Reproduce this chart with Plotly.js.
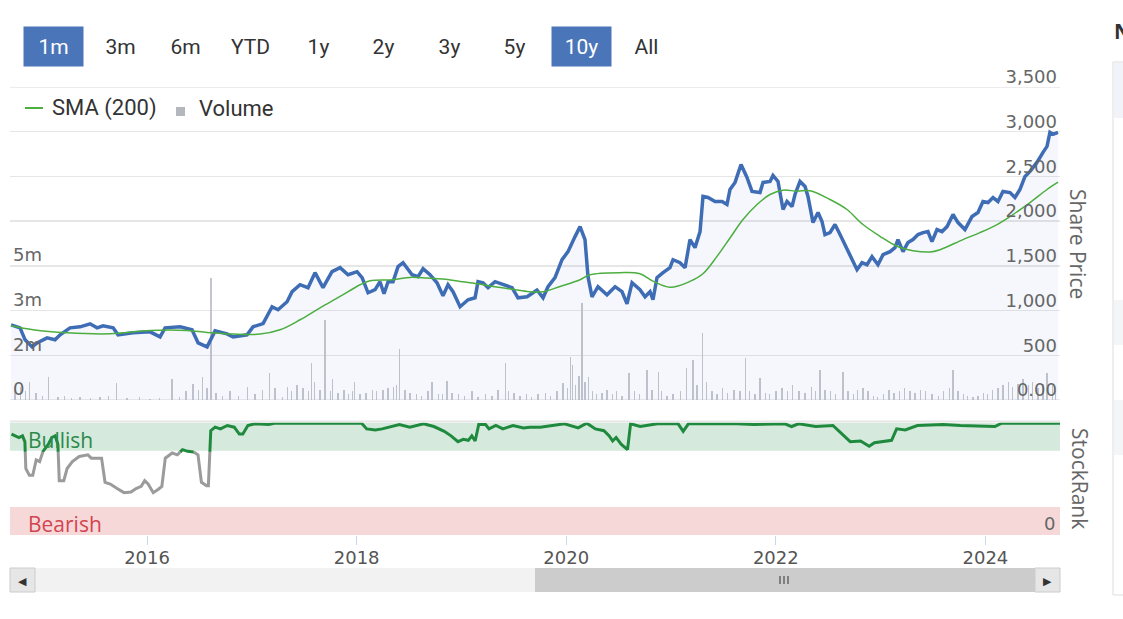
<!DOCTYPE html>
<html>
<head>
<meta charset="utf-8">
<script src="https://cdn.plot.ly/plotly-3.0.1.min.js"></script>
<style>
  html, body { margin: 0; padding: 0; background: #fff; }
  #chart { width: 1123px; height: 619px; }
</style>
</head>
<body>
<div id="chart"></div>
<script>
// share price (decimal years)
var priceYears = [2014.702,2014.788,2014.836,2014.903,2014.950,2015.046,2015.122,2015.170,2015.265,2015.361,2015.456,2015.523,2015.580,2015.676,2015.723,2015.866,2016.029,2016.124,2016.172,2016.315,2016.429,2016.487,2016.573,2016.649,2016.763,2016.821,2016.954,2017.011,2017.107,2017.193,2017.250,2017.336,2017.384,2017.460,2017.536,2017.603,2017.679,2017.765,2017.842,2017.918,2018.004,2018.052,2018.109,2018.176,2018.223,2018.261,2018.300,2018.347,2018.395,2018.443,2018.529,2018.586,2018.634,2018.700,2018.767,2018.824,2018.872,2018.920,2018.987,2019.063,2019.130,2019.158,2019.206,2019.254,2019.321,2019.397,2019.483,2019.540,2019.626,2019.721,2019.779,2019.826,2019.893,2019.960,2020.017,2020.084,2020.132,2020.179,2020.208,2020.246,2020.303,2020.389,2020.466,2020.532,2020.580,2020.628,2020.704,2020.752,2020.800,2020.828,2020.866,2020.924,2020.990,2021.019,2021.086,2021.134,2021.181,2021.229,2021.277,2021.305,2021.353,2021.420,2021.487,2021.534,2021.563,2021.611,2021.668,2021.725,2021.773,2021.849,2021.878,2021.945,2021.973,2022.021,2022.069,2022.107,2022.155,2022.183,2022.231,2022.279,2022.307,2022.355,2022.403,2022.441,2022.469,2022.517,2022.565,2022.613,2022.679,2022.727,2022.775,2022.823,2022.870,2022.918,2022.975,2023.023,2023.090,2023.137,2023.166,2023.214,2023.261,2023.309,2023.357,2023.405,2023.452,2023.490,2023.538,2023.586,2023.634,2023.691,2023.739,2023.805,2023.872,2023.929,2023.977,2024.025,2024.073,2024.120,2024.168,2024.235,2024.282,2024.330,2024.378,2024.426,2024.492,2024.550,2024.588,2024.616,2024.645,2024.693];
var price = [841,807,673,594,639,695,673,729,807,818,852,807,830,807,729,751,762,706,807,818,785,639,594,773,740,706,729,818,855,1043,1009,1099,1211,1289,1256,1424,1256,1435,1480,1401,1435,1368,1199,1233,1323,1188,1323,1323,1491,1536,1401,1379,1468,1401,1311,1166,1289,1211,1043,1121,1143,1323,1311,1256,1323,1289,1256,1143,1154,1230,1143,1267,1368,1569,1659,1827,1939,1794,1379,1154,1267,1177,1267,1211,1076,1311,1233,1154,1211,1121,1368,1424,1480,1569,1536,1480,1794,1704,1883,2276,2264,2220,2220,2186,2354,2433,2634,2489,2332,2320,2433,2444,2511,2444,2130,2220,2164,2298,2444,2388,2276,1984,2096,1995,1850,1872,1962,1850,1681,1569,1457,1536,1513,1603,1513,1625,1659,1704,1794,1659,1760,1794,1850,1872,1883,1771,1906,1883,1939,2074,1984,1906,2051,2096,2220,2208,2264,2220,2332,2320,2264,2354,2500,2556,2657,2769,2836,2993,2971,2993];

// 200-day simple moving average
var smaYears = [2014.702,2014.912,2015.236,2015.647,2016.029,2016.382,2016.573,2016.821,2017.078,2017.269,2017.460,2017.651,2017.842,2018.033,2018.128,2018.347,2018.509,2018.672,2018.824,2018.987,2019.149,2019.301,2019.464,2019.626,2019.779,2019.941,2020.132,2020.227,2020.513,2020.704,2020.828,2020.990,2021.181,2021.305,2021.439,2021.563,2021.687,2021.821,2021.945,2022.069,2022.202,2022.326,2022.517,2022.679,2022.832,2022.994,2023.156,2023.309,2023.471,2023.567,2023.786,2023.948,2024.111,2024.263,2024.426,2024.588,2024.693];
var sma = [830,785,751,740,777,777,755,737,737,785,897,1031,1158,1289,1334,1345,1371,1364,1353,1326,1300,1270,1241,1214,1210,1270,1345,1401,1424,1412,1330,1260,1326,1412,1606,1812,2018,2186,2298,2346,2335,2340,2242,2130,1962,1831,1719,1670,1655,1681,1794,1872,1962,2074,2208,2354,2436];

// volume (millions of shares)
var volYears = [2014.74,2014.79,2014.84,2014.88,2014.94,2015.00,2015.06,2015.15,2015.21,2015.28,2015.36,2015.46,2015.55,2015.63,2015.71,2015.81,2015.93,2016.03,2016.12,2016.24,2016.31,2016.37,2016.44,2016.49,2016.53,2016.57,2016.61,2016.66,2016.72,2016.79,2016.87,2016.96,2017.03,2017.10,2017.17,2017.22,2017.29,2017.34,2017.38,2017.43,2017.49,2017.54,2017.57,2017.60,2017.65,2017.70,2017.75,2017.77,2017.82,2017.88,2017.92,2017.96,2017.98,2018.03,2018.09,2018.15,2018.19,2018.25,2018.30,2018.35,2018.38,2018.41,2018.46,2018.51,2018.57,2018.62,2018.68,2018.72,2018.78,2018.82,2018.86,2018.91,2018.97,2019.03,2019.10,2019.16,2019.23,2019.29,2019.35,2019.42,2019.45,2019.50,2019.56,2019.62,2019.67,2019.73,2019.80,2019.85,2019.91,2019.97,2020.01,2020.04,2020.06,2020.09,2020.12,2020.15,2020.18,2020.21,2020.25,2020.29,2020.34,2020.39,2020.44,2020.48,2020.53,2020.60,2020.65,2020.70,2020.77,2020.82,2020.88,2020.91,2020.96,2021.02,2021.09,2021.15,2021.21,2021.25,2021.30,2021.34,2021.39,2021.44,2021.49,2021.54,2021.60,2021.66,2021.71,2021.75,2021.80,2021.85,2021.90,2021.94,2022.00,2022.06,2022.11,2022.16,2022.22,2022.28,2022.34,2022.38,2022.42,2022.47,2022.52,2022.57,2022.64,2022.69,2022.74,2022.78,2022.83,2022.88,2022.93,2022.97,2023.03,2023.08,2023.13,2023.18,2023.23,2023.28,2023.33,2023.38,2023.43,2023.49,2023.55,2023.60,2023.66,2023.69,2023.74,2023.79,2023.83,2023.88,2023.93,2023.98,2024.02,2024.07,2024.12,2024.17,2024.22,2024.26,2024.31,2024.36,2024.41,2024.45,2024.50,2024.55,2024.59,2024.64,2024.67];
var volume = [0.35,0.45,0.3,0.6,0.25,0.15,0.77,0.1,0.12,0.08,0.1,0.08,0.1,0.12,0.57,0.08,0.1,0.05,0.08,0.7,0.1,0.3,0.55,0.35,0.77,0.4,4.1,0.25,0.15,0.3,0.12,0.44,0.2,0.35,0.9,0.4,0.1,0.45,0.3,0.5,0.4,0.3,1.24,0.6,0.35,2.69,0.3,0.7,0.25,0.35,0.2,0.3,0.6,0.2,0.25,0.35,0.3,0.35,0.4,0.45,0.5,1.7,0.35,0.25,0.2,0.15,0.3,0.6,0.2,0.2,0.65,0.25,0.2,0.15,0.3,0.1,0.2,0.15,0.35,1.24,0.3,0.25,0.15,0.2,0.1,0.2,0.25,0.15,0.3,0.57,0.4,1.45,1.18,0.5,0.8,3.26,0.6,0.77,0.3,0.2,0.25,0.35,0.2,0.3,0.15,0.9,0.3,0.2,1.0,0.35,0.94,0.3,0.15,0.2,0.3,1.08,1.35,0.5,2.25,0.6,0.3,0.2,0.4,0.25,0.35,0.3,1.41,0.3,0.2,0.74,0.25,0.2,0.3,0.4,0.3,0.5,0.3,0.25,0.45,0.3,1.0,0.35,0.3,0.2,0.94,0.3,0.2,0.35,0.4,0.3,0.15,0.1,0.2,0.35,0.25,0.3,0.4,0.3,0.25,0.35,0.3,0.2,0.15,0.3,0.4,1.0,0.3,0.2,0.15,0.1,0.15,0.25,0.2,0.35,0.4,0.5,0.6,0.45,0.55,0.7,0.5,0.6,0.4,0.55,0.9,0.5,0.3];

// StockRank (0-100)
var rankYears = [2014.706,2014.777,2014.811,2014.834,2014.843,2014.877,2014.909,2014.942,2014.975,2015.007,2015.057,2015.090,2015.123,2015.149,2015.162,2015.205,2015.237,2015.287,2015.353,2015.435,2015.468,2015.533,2015.566,2015.599,2015.649,2015.714,2015.780,2015.846,2015.895,2015.944,2015.977,2016.010,2016.059,2016.108,2016.141,2016.174,2016.240,2016.289,2016.338,2016.388,2016.437,2016.486,2016.519,2016.568,2016.585,2016.608,2016.650,2016.700,2016.766,2016.832,2016.880,2016.914,2016.962,2017.028,2017.160,2017.226,2018.047,2018.096,2018.178,2018.244,2018.408,2018.507,2018.639,2018.737,2018.836,2018.901,2018.967,2019.017,2019.066,2019.099,2019.131,2019.165,2019.230,2019.263,2019.329,2019.395,2019.493,2019.591,2019.654,2019.753,2019.983,2020.114,2020.196,2020.278,2020.360,2020.410,2020.443,2020.476,2020.526,2020.585,2020.614,2020.706,2020.870,2021.068,2021.116,2021.166,2021.626,2021.790,2022.086,2022.151,2022.217,2022.381,2022.545,2022.611,2022.710,2022.809,2022.891,2022.941,2023.006,2023.105,2023.153,2023.235,2023.351,2023.597,2023.761,2024.090,2024.156,2024.715];
var rank = [89.9,86.8,88.3,83.1,59.2,53.1,53.1,66.9,65.3,74.5,80.7,86.8,88.3,80.7,48.4,48.4,59.2,65.3,69.9,71.4,68.4,68.4,68.4,46.9,45.4,41.4,37.7,38.3,41.4,43.3,48.4,45.4,37.7,40.8,43.3,68.4,73,71.4,76,74.5,74.5,71.4,46.9,43.8,43.8,92.9,96,94.5,97.5,96,89.9,89.9,97.5,99,98.4,99.6,99.6,94.5,93.5,94.5,98.4,96,99,96.6,92.3,88.3,83.1,85.2,84.3,88.3,83.7,98.4,98.4,94.5,97.5,94.5,97.5,95.4,96,96,99,95.4,99.6,94.5,92.9,88.3,83.7,86.8,80.7,76,99,96.6,99,99,92.3,99,99,98.4,99,96.6,99,96.6,97.5,91.4,83.1,83.7,79.1,82.2,83.1,84.3,94.5,93.5,97.5,98.4,97.5,96.6,99.6,99.6];

var rangeButtons = ['1m', '3m', '6m', 'YTD', '1y', '2y', '3y', '5y', '10y', 'All'];
var activeButtons = ['1m', '10y'];

// pixel -> paper helpers (plot area x 10..1060, y 87..535)
function px(x) { return (x - 10) / 1050; }
function py(y) { return (535 - y) / 448; }

// split StockRank line into bullish (green) and other (grey) pieces
function splitRank(xs, ys, thr) {
  var g = {x: [], y: []}, r = {x: [], y: []};
  var cur = ys[0] >= thr ? g : r;
  cur.x.push(xs[0]); cur.y.push(ys[0]);
  for (var i = 1; i < xs.length; i++) {
    var above = ys[i] >= thr, prev = ys[i - 1] >= thr;
    if (above !== prev) {
      var t = (thr - ys[i - 1]) / (ys[i] - ys[i - 1]);
      var xc = xs[i - 1] + t * (xs[i] - xs[i - 1]);
      cur.x.push(xc, null); cur.y.push(thr, null);
      cur = above ? g : r;
      cur.x.push(xc); cur.y.push(thr);
    }
    cur.x.push(xs[i]); cur.y.push(ys[i]);
  }
  return {green: g, grey: r};
}
var rankParts = splitRank(rankYears, rank, 74);

var font = 'Open Sans, sans-serif';
var tickFont = 'DejaVu Sans, sans-serif';
var btnFont = 'Roboto, sans-serif';

var data = [
  {
    x: volYears, y: volume.map(function (v) { return v * 1e6; }),
    type: 'bar', name: 'Volume', xaxis: 'x', yaxis: 'y',
    width: 0.014, marker: {color: '#c4c6cc'}, hoverinfo: 'skip'
  },
  {
    x: priceYears, y: price, type: 'scatter', mode: 'lines', name: 'Share Price',
    xaxis: 'x', yaxis: 'y2', fill: 'tozeroy', fillcolor: 'rgba(90,120,200,0.06)',
    line: {color: '#3e6db5', width: 3.5}
  },
  {
    x: smaYears, y: sma, type: 'scatter', mode: 'lines', name: 'SMA (200)',
    xaxis: 'x', yaxis: 'y2', line: {color: '#4bae3f', width: 1.5, shape: 'spline'}
  },
  {
    x: rankParts.grey.x, y: rankParts.grey.y, type: 'scatter', mode: 'lines',
    xaxis: 'x', yaxis: 'y3', line: {color: '#9b9b9b', width: 3}
  },
  {
    x: rankParts.green.x, y: rankParts.green.y, type: 'scatter', mode: 'lines',
    xaxis: 'x', yaxis: 'y3', line: {color: '#1f8a3e', width: 3}
  }
];

var annotations = [];
rangeButtons.forEach(function (b, i) {
  var centers = [53.5, 120, 185, 250, 318, 383, 449, 514, 581, 646];
  var on = activeButtons.indexOf(b) >= 0;
  annotations.push({
    xref: 'paper', yref: 'paper', x: px(centers[i]), y: py(46.5),
    text: b, showarrow: false, xanchor: 'center', yanchor: 'middle',
    width: 57, height: 37, bgcolor: on ? '#4a76b9' : 'rgba(0,0,0,0)',
    font: {family: btnFont, size: 21, color: on ? '#ffffff' : '#333333'}
  });
});
annotations.push(
  {xref: 'paper', yref: 'paper', x: px(50), y: py(108), text: 'SMA (200)', showarrow: false,
   xanchor: 'left', yanchor: 'middle', font: {family: btnFont, size: 22, color: '#333'}},
  {xref: 'paper', yref: 'paper', x: px(197), y: py(108), text: 'Volume', showarrow: false,
   xanchor: 'left', yanchor: 'middle', font: {family: btnFont, size: 22, color: '#333'}},
  {xref: 'paper', yref: 'paper', x: px(1078), y: py(244), text: 'Share Price', showarrow: false,
   textangle: 90, xanchor: 'center', yanchor: 'middle', font: {family: font, size: 21, color: '#666'}},
  {xref: 'paper', yref: 'paper', x: px(1080), y: py(478), text: 'StockRank', showarrow: false,
   textangle: 90, xanchor: 'center', yanchor: 'middle', font: {family: font, size: 21, color: '#666'}},
  {xref: 'paper', yref: 'paper', x: px(26), y: py(440), text: 'Bullish', showarrow: false,
   xanchor: 'left', yanchor: 'middle', font: {family: font, size: 21, color: '#2c8a4b'}},
  {xref: 'paper', yref: 'paper', x: px(26), y: py(524), text: 'Bearish', showarrow: false,
   xanchor: 'left', yanchor: 'middle', font: {family: font, size: 21, color: '#d24550'}},
  {xref: 'paper', yref: 'paper', x: px(1057), y: py(523), text: '0', showarrow: false,
   xanchor: 'right', yanchor: 'middle', font: {family: tickFont, size: 18, color: '#666'}},
  {xref: 'paper', yref: 'paper', x: px(22), y: py(580), text: '◀', showarrow: false,
   xanchor: 'center', yanchor: 'middle', font: {family: font, size: 11, color: '#333'}},
  {xref: 'paper', yref: 'paper', x: px(1047), y: py(580), text: '▶', showarrow: false,
   xanchor: 'center', yanchor: 'middle', font: {family: font, size: 11, color: '#333'}},
  {xref: 'paper', yref: 'paper', x: px(1112), y: py(31), text: '<b>N</b>', showarrow: false,
   xanchor: 'left', yanchor: 'middle', font: {family: font, size: 21, color: '#333'}}
);

var shapes = [
  // price grid edges (0 and 3,500)
  {type: 'line', xref: 'paper', yref: 'y2', x0: 0, x1: 1, y0: 0, y1: 0,
   line: {color: '#e6e6e6', width: 1.5}, layer: 'below'},
  {type: 'line', xref: 'paper', yref: 'y2', x0: 0, x1: 1, y0: 3500, y1: 3500,
   line: {color: '#e6e6e6', width: 1.5}, layer: 'below'},
  // StockRank bands
  {type: 'rect', xref: 'paper', yref: 'y3', x0: 0, x1: 1, y0: 75, y1: 100,
   fillcolor: '#d5e9dc', line: {width: 0}, layer: 'below'},
  {type: 'rect', xref: 'paper', yref: 'y3', x0: 0, x1: 1, y0: 0, y1: 25,
   fillcolor: '#f6d8d9', line: {width: 0}, layer: 'below'},
  {type: 'line', xref: 'paper', yref: 'paper', x0: 0, x1: 1, y0: py(421.5), y1: py(421.5),
   line: {color: '#e6e6e6', width: 2}, layer: 'below'},
  // legend symbols
  {type: 'line', xref: 'paper', yref: 'paper', x0: px(25), x1: px(43), y0: py(108), y1: py(108),
   line: {color: '#4bae3f', width: 2}},
  {type: 'rect', xref: 'paper', yref: 'paper', x0: px(176), x1: px(185), y0: py(116), y1: py(107),
   fillcolor: '#b5b7be', line: {width: 0}},
  // navigator scrollbar
  {type: 'rect', xref: 'paper', yref: 'paper', x0: px(10), x1: px(1060), y0: py(592), y1: py(568),
   fillcolor: '#f2f2f2', line: {width: 0}},
  {type: 'rect', xref: 'paper', yref: 'paper', x0: px(535), x1: px(1035), y0: py(592), y1: py(568),
   fillcolor: '#cccccc', line: {width: 0}},
  {type: 'rect', xref: 'paper', yref: 'paper', x0: px(10), x1: px(35), y0: py(592), y1: py(568),
   fillcolor: '#e6e6e6', line: {color: '#cccccc', width: 1}},
  {type: 'rect', xref: 'paper', yref: 'paper', x0: px(1035), x1: px(1060), y0: py(592), y1: py(568),
   fillcolor: '#e6e6e6', line: {color: '#cccccc', width: 1}},
  {type: 'line', xref: 'paper', yref: 'paper', x0: px(780), x1: px(780), y0: py(576), y1: py(584),
   line: {color: '#333', width: 1}},
  {type: 'line', xref: 'paper', yref: 'paper', x0: px(784), x1: px(784), y0: py(576), y1: py(584),
   line: {color: '#333', width: 1}},
  {type: 'line', xref: 'paper', yref: 'paper', x0: px(788), x1: px(788), y0: py(576), y1: py(584),
   line: {color: '#333', width: 1}},
  // neighbouring panel edge
  {type: 'rect', xref: 'paper', yref: 'paper', x0: px(1113), x1: px(1140), y0: py(595), y1: py(62),
   fillcolor: '#ffffff', line: {color: '#dddddd', width: 1}},
  {type: 'rect', xref: 'paper', yref: 'paper', x0: px(1114), x1: px(1140), y0: py(118), y1: py(63),
   fillcolor: '#f1f3f8', line: {width: 0}},
  {type: 'rect', xref: 'paper', yref: 'paper', x0: px(1114), x1: px(1140), y0: py(345), y1: py(300),
   fillcolor: '#f4f5f7', line: {width: 0}},
  {type: 'rect', xref: 'paper', yref: 'paper', x0: px(1114), x1: px(1140), y0: py(455), y1: py(400),
   fillcolor: '#f4f5f7', line: {width: 0}}
];

var layout = {
  width: 1123, height: 619,
  margin: {l: 10, r: 63, t: 87, b: 84, pad: 0},
  paper_bgcolor: '#ffffff', plot_bgcolor: 'rgba(0,0,0,0)',
  showlegend: false, bargap: 0,
  font: {family: font, color: '#666'},
  xaxis: {
    anchor: 'y3', range: [2014.692, 2024.712], showgrid: false, zeroline: false,
    tickvals: [2016, 2018, 2020, 2022, 2024], tickformat: 'd',
    ticks: 'outside', ticklen: 9, tickcolor: '#ccd6eb', tickwidth: 1,
    ticklabelstandoff: -3,
    tickfont: {family: tickFont, size: 18, color: '#555'}, showline: false, fixedrange: true
  },
  yaxis: {
    domain: [py(400), 1], range: [0, 10.5e6], side: 'left',
    tickvals: [0, 1.5e6, 3e6, 4.5e6], ticktext: ['0', '2m', '3m', '5m'],
    ticklabelposition: 'inside', ticklabeloverflow: 'allow', ticklabelshift: -11,
    showgrid: false, zeroline: false, showline: false,
    tickfont: {family: tickFont, size: 18, color: '#666'}
  },
  yaxis2: {
    overlaying: 'y', side: 'right', range: [0, 3500],
    tickvals: [0, 500, 1000, 1500, 2000, 2500, 3000, 3500],
    ticktext: ['0.00', '500', '1,000', '1,500', '2,000', '2,500', '3,000', '3,500'],
    ticklabelposition: 'inside', ticklabeloverflow: 'allow', ticklabelshift: -10,
    showgrid: true, gridcolor: '#e6e6e6', gridwidth: 1.5, zeroline: false, showline: false,
    tickfont: {family: tickFont, size: 18, color: '#666'}
  },
  yaxis3: {
    domain: [0, py(422.7)], range: [0, 100], showgrid: false, zeroline: false,
    showticklabels: false, showline: false
  },
  shapes: shapes,
  annotations: annotations
};

Plotly.newPlot('chart', data, layout, {displayModeBar: false, staticPlot: true});
</script>
</body>
</html>
